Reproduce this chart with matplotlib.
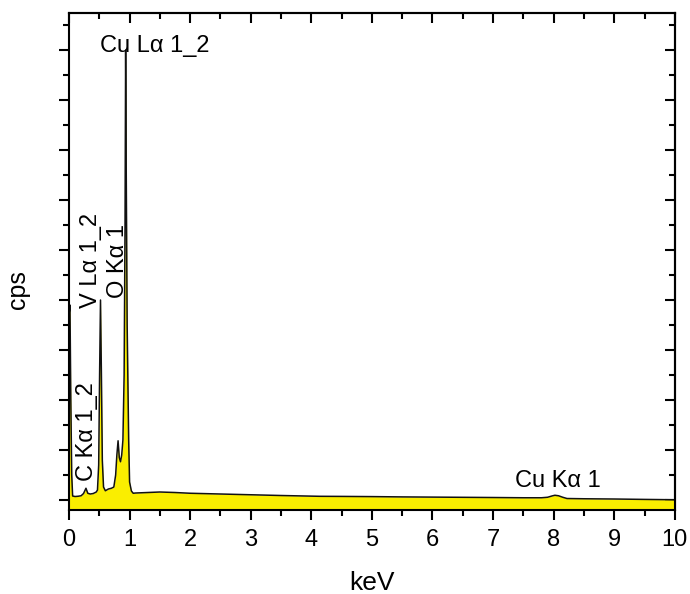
import matplotlib.pyplot as plt
from matplotlib.ticker import MultipleLocator, NullFormatter

plt.rcParams['font.family'] = ['Liberation Sans', 'DejaVu Sans']

# EDS spectrum read as (energy keV, counts) points
energia = [0.00, 0.016, 0.03, 0.045, 0.06, 0.10, 0.15, 0.20, 0.24, 0.28,
           0.31, 0.35, 0.40, 0.45, 0.47, 0.49, 0.505, 0.52, 0.535, 0.55,
           0.57, 0.60, 0.65, 0.70, 0.74, 0.77, 0.79, 0.81, 0.83, 0.85,
           0.87, 0.89, 0.91, 0.925, 0.935, 0.945, 0.96, 0.985, 1.00, 1.03,
           1.06, 1.10, 1.30, 1.50, 1.75, 2.00, 2.50, 3.00, 3.50, 4.14,
           4.50, 5.00, 5.50, 6.00, 6.50, 7.00, 7.50, 7.80, 7.90, 7.97,
           8.02, 8.08, 8.15, 8.22, 8.50, 9.00, 9.50, 10.00]
cuentas = [3700, 3900, 2000, 500, 80, 70, 75, 85, 130, 235,
           135, 120, 130, 160, 200, 700, 2500, 4000, 2500, 800,
           260, 185, 220, 235, 260, 500, 900, 1185, 850, 765,
           900, 1200, 2500, 5500, 9000, 6500, 3500, 1200, 360, 180,
           135, 140, 150, 160, 150, 135, 120, 105, 90, 74,
           72, 68, 62, 58, 54, 50, 45, 45, 55, 80,
           95, 85, 55, 30, 25, 20, 12, 5]

# peak labels: text, x, y, rotation
etiquetas = [
    ('Cu L\u03b1 1_2', 0.51, 8960, 0),
    ('V L\u03b1 1_2', 0.18, 3840, 90),
    ('O K\u03b1 1', 0.63, 4040, 90),
    ('C K\u03b1 1_2', 0.115, 380, 90),
    ('Cu K\u03b1 1', 7.36, 260, 0),
]

fig = plt.figure(figsize=(6.9, 5.94), dpi=100)
ax = fig.add_axes([0.1, 0.1414, 0.878, 0.8367])

y_min, y_max = -200, 9740
ax.fill_between(energia, cuentas, y_min, color='#FAEE00', lw=0)
ax.plot(energia, cuentas, color='#111111', lw=1.1)

ax.set_xlim(0, 10)
ax.set_ylim(y_min, y_max)

ax.xaxis.set_major_locator(MultipleLocator(1))
ax.xaxis.set_minor_locator(MultipleLocator(0.5))
ax.yaxis.set_major_locator(MultipleLocator(1000))
ax.yaxis.set_minor_locator(MultipleLocator(500))
ax.yaxis.set_major_formatter(NullFormatter())

ax.tick_params(which='major', direction='out', length=7, width=1.5,
               labelsize=17, top=False, right=False)
ax.tick_params(which='minor', direction='out', length=4, width=1.5,
               top=False, right=False)
ax.tick_params(axis='x', pad=7)

# mirrored ticks on top and right, pointing inward
sec_x = ax.secondary_xaxis('top')
sec_x.xaxis.set_major_locator(MultipleLocator(1))
sec_x.xaxis.set_minor_locator(MultipleLocator(0.5))
sec_x.tick_params(which='major', direction='in', length=7, width=1.5, labeltop=False)
sec_x.tick_params(which='minor', direction='in', length=4, width=1.5)
sec_y = ax.secondary_yaxis('right')
sec_y.yaxis.set_major_locator(MultipleLocator(1000))
sec_y.yaxis.set_minor_locator(MultipleLocator(500))
sec_y.tick_params(which='major', direction='in', length=7, width=1.5, labelright=False)
sec_y.tick_params(which='minor', direction='in', length=4, width=1.5)

for s in list(ax.spines.values()) + list(sec_x.spines.values()) + list(sec_y.spines.values()):
    s.set_linewidth(1.5)

ax.set_xlabel('keV', fontsize=19, labelpad=14)
ax.set_ylabel('cps', fontsize=18, va='center', ha='center')
ax.yaxis.set_label_coords(-0.084, 0.443)

for texto, x, y, rot in etiquetas:
    ax.text(x, y, texto, fontsize=17, rotation=rot, ha='left',
            va='baseline' if rot == 0 else 'bottom')

fig.savefig('out.png', dpi=100)
